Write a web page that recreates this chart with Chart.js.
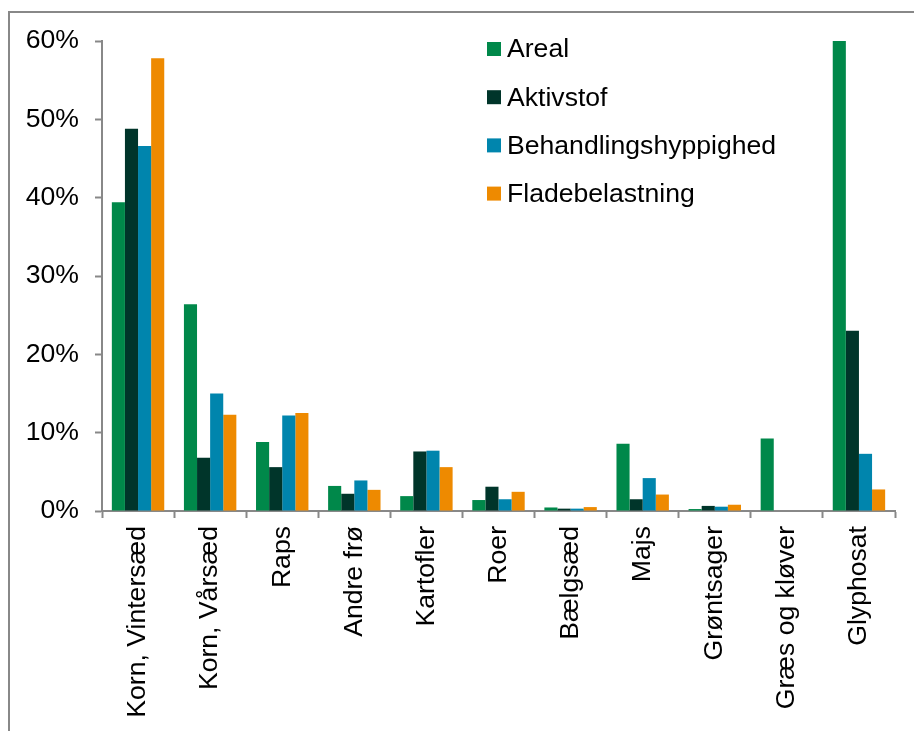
<!DOCTYPE html>
<html>
<head>
<meta charset="utf-8">
<script src="https://cdn.jsdelivr.net/npm/chart.js@4"></script>
<style>
  html, body { margin: 0; padding: 0; background: #fff; }
  #wrap { width: 914px; height: 731px; position: relative; }
</style>
</head>
<body>
<div id="wrap"><canvas id="c" width="914" height="731"></canvas></div>
<script>
// Crop categories
const categories = ['Korn, Vintersæd', 'Korn, Vårsæd', 'Raps', 'Andre frø', 'Kartofler', 'Roer',
  'Bælgsæd', 'Majs', 'Grøntsager', 'Græs og kløver', 'Glyphosat'];

// Shares in percent per category
const areal          = [39.4, 26.4, 8.8, 3.2, 1.9, 1.4, 0.45, 8.6, 0.25, 9.25, 60.0];
const aktivstof      = [48.8, 6.8, 5.6, 2.2, 7.6, 3.1, 0.3, 1.5, 0.65, 0, 23.0];
const behandling     = [46.6, 15.0, 12.2, 3.9, 7.7, 1.5, 0.3, 4.2, 0.55, 0, 7.3];
const fladebelastning = [57.8, 12.3, 12.5, 2.7, 5.6, 2.45, 0.5, 2.1, 0.8, 0, 2.75];

const seriesNames = ['Areal', 'Aktivstof', 'Behandlingshyppighed', 'Fladebelastning'];
const seriesColors = ['#00884A', '#00352A', '#0085AD', '#EE8A00'];
const yTicks = [0, 10, 20, 30, 40, 50, 60];

const FONT = '"Liberation Sans", Arial, sans-serif';
const FONT_SIZE = 26.6;
const AXIS = '#888888';

// Frame lines and white background
const framePlugin = {
  id: 'frame',
  beforeDraw(chart) {
    const ctx = chart.ctx;
    ctx.save();
    ctx.fillStyle = '#fff';
    ctx.fillRect(0, 0, chart.width, chart.height);
    ctx.strokeStyle = AXIS;
    ctx.lineWidth = 2;
    ctx.beginPath();
    ctx.moveTo(9, chart.height);
    ctx.lineTo(9, 12);
    ctx.lineTo(chart.width, 12);
    ctx.stroke();
    ctx.restore();
  }
};

// Vertical legend inside the plot
const legendPlugin = {
  id: 'vlegend',
  afterDraw(chart) {
    const ctx = chart.ctx;
    ctx.save();
    ctx.font = FONT_SIZE + 'px ' + FONT;
    ctx.textBaseline = 'middle';
    ctx.textAlign = 'left';
    chart.data.datasets.forEach((ds, i) => {
      const cy = 49 + i * 48.2;
      ctx.fillStyle = ds.backgroundColor;
      ctx.fillRect(487, cy - 7, 14, 14);
      ctx.fillStyle = '#000';
      ctx.fillText(ds.label, 507, cy + 1);
    });
    ctx.restore();
  }
};

const values = [areal, aktivstof, behandling, fladebelastning];

new Chart(document.getElementById('c'), {
  type: 'bar',
  data: {
    labels: categories,
    datasets: seriesNames.map((name, i) => ({
      label: name,
      data: values[i],
      backgroundColor: seriesColors[i],
      borderWidth: 0,
      categoryPercentage: 0.727,
      barPercentage: 1.0
    }))
  },
  options: {
    responsive: false,
    animation: false,
    layout: { padding: { left: 0, top: 41, right: 19, bottom: 0 } },
    plugins: {
      legend: { display: false },
      tooltip: { enabled: false }
    },
    scales: {
      x: {
        afterFit(scale) { scale.height = 220; },
        grid: {
          offset: true,
          drawOnChartArea: false,
          drawTicks: true,
          tickLength: 7,
          tickWidth: 2,
          tickColor: AXIS
        },
        border: { color: AXIS, width: 2 },
        ticks: {
          autoSkip: false,
          minRotation: 90,
          maxRotation: 90,
          padding: 8,
          color: '#000',
          font: { family: FONT, size: FONT_SIZE }
        }
      },
      y: {
        min: 0,
        max: 60,
        afterFit(scale) { scale.width = 102; },
        afterBuildTicks(scale) { scale.ticks = yTicks.map(v => ({ value: v })); },
        grid: {
          drawOnChartArea: false,
          drawTicks: true,
          tickLength: 7,
          tickWidth: 2,
          tickColor: AXIS
        },
        border: { color: AXIS, width: 2 },
        ticks: {
          padding: 16,
          color: '#000',
          font: { family: FONT, size: FONT_SIZE },
          callback: v => v + '%'
        }
      }
    }
  },
  plugins: [framePlugin, legendPlugin]
});
</script>
</body>
</html>
